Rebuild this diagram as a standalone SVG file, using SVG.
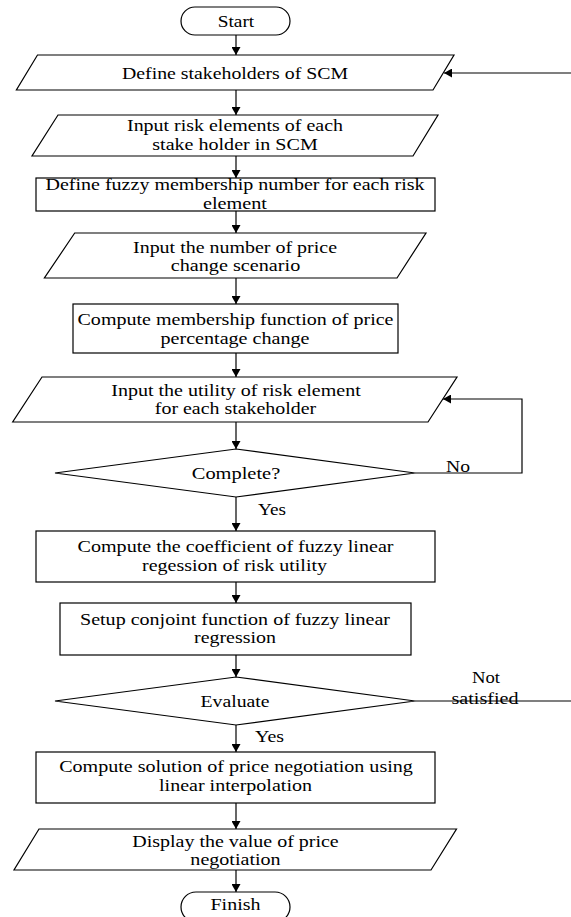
<svg xmlns="http://www.w3.org/2000/svg" width="571" height="917" viewBox="0 0 571 917">
<style>
.s{fill:#fff;stroke:#000;stroke-width:1.2}
.c{fill:none;stroke:#000;stroke-width:1.2}
text{font-size:16.5px;fill:#000}
.m{text-anchor:middle}
</style>
<defs>
<marker id="a" viewBox="0 0 8 9" refX="8" refY="4.5" markerWidth="8" markerHeight="9" markerUnits="userSpaceOnUse" orient="auto">
<path d="M0,0 L8,4.5 L0,9 z" fill="#000"/>
</marker>
</defs>
<rect width="571" height="917" fill="#fff"/>
<g font-family="'Liberation Serif', 'Times New Roman', serif">
<g id="connectors">
<line class="c" x1="236" y1="35" x2="236" y2="55" marker-end="url(#a)"/>
<line class="c" x1="571" y1="73" x2="444" y2="73" marker-end="url(#a)"/>
<line class="c" x1="236" y1="90" x2="236" y2="115" marker-end="url(#a)"/>
<line class="c" x1="236" y1="156" x2="236" y2="178" marker-end="url(#a)"/>
<line class="c" x1="236" y1="211" x2="236" y2="233" marker-end="url(#a)"/>
<line class="c" x1="236" y1="278" x2="236" y2="304" marker-end="url(#a)"/>
<line class="c" x1="236" y1="353" x2="236" y2="377" marker-end="url(#a)"/>
<line class="c" x1="236" y1="422" x2="236" y2="449" marker-end="url(#a)"/>
<polyline class="c" points="415,473 522,473 522,399 443,399" marker-end="url(#a)"/>
<line class="c" x1="236" y1="497" x2="236" y2="531" marker-end="url(#a)"/>
<line class="c" x1="236" y1="582" x2="236" y2="603" marker-end="url(#a)"/>
<line class="c" x1="236" y1="655" x2="236" y2="677" marker-end="url(#a)"/>
<line class="c" x1="415" y1="701" x2="571" y2="701"/>
<line class="c" x1="236" y1="725" x2="236" y2="752" marker-end="url(#a)"/>
<line class="c" x1="236" y1="803" x2="236" y2="829" marker-end="url(#a)"/>
<line class="c" x1="236" y1="870" x2="236" y2="892" marker-end="url(#a)"/>
<text x="446" y="472" textLength="24" lengthAdjust="spacingAndGlyphs">No</text>
<text x="258" y="515" textLength="28" lengthAdjust="spacingAndGlyphs">Yes</text>
<text class="m" x="486" y="683" textLength="28" lengthAdjust="spacingAndGlyphs">Not</text>
<text class="m" x="485" y="704" textLength="67" lengthAdjust="spacingAndGlyphs">satisfied</text>
<text x="255" y="742" textLength="29" lengthAdjust="spacingAndGlyphs">Yes</text>
</g>
<g id="start"><rect class="s" x="181" y="7" width="109" height="28" rx="14"/><text class="m" x="236" y="27" textLength="36.5" lengthAdjust="spacingAndGlyphs">Start</text></g>
<g id="define-stakeholders"><polygon class="s" points="37.5,55 454,55 433,90 16.4,90"/><text class="m" x="235" y="79" textLength="226" lengthAdjust="spacingAndGlyphs">Define stakeholders of SCM</text></g>
<g id="input-risk"><polygon class="s" points="58,115 438,115 413,156 32,156"/><text class="m" x="235" y="131" textLength="216" lengthAdjust="spacingAndGlyphs">Input risk elements of each</text><text class="m" x="235" y="150" textLength="165.5" lengthAdjust="spacingAndGlyphs">stake holder in SCM</text></g>
<g id="define-fuzzy"><rect class="s" x="36" y="178" width="399" height="33"/><text class="m" x="235" y="190.4" textLength="379" lengthAdjust="spacingAndGlyphs">Define fuzzy membership number for each risk</text><text class="m" x="235" y="208.9" textLength="64" lengthAdjust="spacingAndGlyphs">element</text></g>
<g id="input-number"><polygon class="s" points="74.7,233 426,233 397,278 44.4,278"/><text class="m" x="235" y="252.5" textLength="204" lengthAdjust="spacingAndGlyphs">Input the number of price</text><text class="m" x="235.5" y="271" textLength="129.5" lengthAdjust="spacingAndGlyphs">change scenario</text></g>
<g id="compute-membership"><rect class="s" x="73" y="304" width="325" height="49"/><text class="m" x="235.5" y="324.5" textLength="316" lengthAdjust="spacingAndGlyphs">Compute membership function of price</text><text class="m" x="235" y="343.5" textLength="149" lengthAdjust="spacingAndGlyphs">percentage change</text></g>
<g id="input-utility"><polygon class="s" points="42,377 457,377 428,422 12.7,422"/><text class="m" x="236" y="395.5" textLength="249.5" lengthAdjust="spacingAndGlyphs">Input the utility of risk element</text><text class="m" x="235.5" y="414" textLength="161.4" lengthAdjust="spacingAndGlyphs">for each stakeholder</text></g>
<g id="complete"><polygon class="s" points="236,449 415,473 236,497 55,473"/><text class="m" x="236" y="478.5" textLength="88.5" lengthAdjust="spacingAndGlyphs">Complete?</text></g>
<g id="compute-coefficient"><rect class="s" x="36" y="531" width="399" height="51"/><text class="m" x="235.5" y="552" textLength="316" lengthAdjust="spacingAndGlyphs">Compute the coefficient of fuzzy linear</text><text class="m" x="234.5" y="570.5" textLength="185" lengthAdjust="spacingAndGlyphs">regession of risk utility</text></g>
<g id="setup-conjoint"><rect class="s" x="60" y="603" width="351" height="52"/><text class="m" x="235" y="624.5" textLength="310" lengthAdjust="spacingAndGlyphs">Setup conjoint function of fuzzy linear</text><text class="m" x="235" y="643" textLength="82" lengthAdjust="spacingAndGlyphs">regression</text></g>
<g id="evaluate"><polygon class="s" points="236,677 415,701 236,725 55,701"/><text class="m" x="235" y="706.5" textLength="69" lengthAdjust="spacingAndGlyphs">Evaluate</text></g>
<g id="compute-solution"><rect class="s" x="36" y="752" width="399" height="51"/><text class="m" x="236" y="772" textLength="353.7" lengthAdjust="spacingAndGlyphs">Compute solution of price negotiation using</text><text class="m" x="235.5" y="790.5" textLength="153" lengthAdjust="spacingAndGlyphs">linear interpolation</text></g>
<g id="display"><polygon class="s" points="39,829 456.5,829 431,870 14,870"/><text class="m" x="235.5" y="846.5" textLength="206.5" lengthAdjust="spacingAndGlyphs">Display the value of price</text><text class="m" x="235.5" y="865" textLength="90.3" lengthAdjust="spacingAndGlyphs">negotiation</text></g>
<g id="finish"><rect class="s" x="181" y="892" width="109" height="30" rx="15"/><text class="m" x="235.5" y="910" textLength="50" lengthAdjust="spacingAndGlyphs">Finish</text></g>
</g>
</svg>
